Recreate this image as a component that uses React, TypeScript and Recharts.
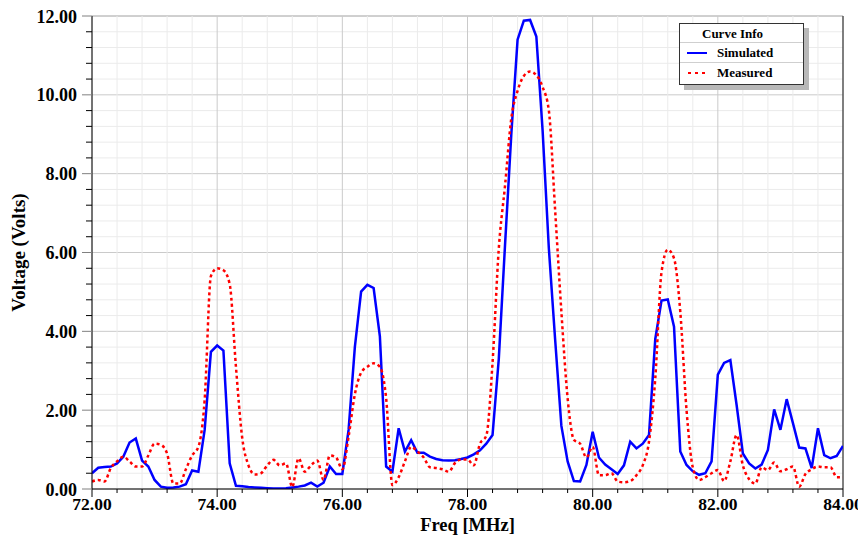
import React from 'react';
import { LineChart, Line, XAxis, YAxis, CartesianGrid, Legend } from 'recharts';

const freqMHz = [
  72.0, 72.1, 72.2, 72.3, 72.4, 72.5, 72.6, 72.7, 72.8, 72.9,
  73.0, 73.1, 73.2, 73.3, 73.4, 73.5, 73.6, 73.7, 73.8, 73.9,
  74.0, 74.1, 74.2, 74.3, 74.4, 74.5, 74.6, 74.7, 74.8, 74.9,
  75.0, 75.1, 75.2, 75.3, 75.4, 75.5, 75.6, 75.7, 75.8, 75.9,
  76.0, 76.1, 76.2, 76.3, 76.4, 76.5, 76.6, 76.7, 76.8, 76.9,
  77.0, 77.1, 77.2, 77.3, 77.4, 77.5, 77.6, 77.7, 77.8, 77.9,
  78.0, 78.1, 78.2, 78.3, 78.4, 78.5, 78.6, 78.7, 78.8, 78.9,
  79.0, 79.1, 79.2, 79.3, 79.4, 79.5, 79.6, 79.7, 79.8, 79.9,
  80.0, 80.1, 80.2, 80.3, 80.4, 80.5, 80.6, 80.7, 80.8, 80.9,
  81.0, 81.1, 81.2, 81.3, 81.4, 81.5, 81.6, 81.7, 81.8, 81.9,
  82.0, 82.1, 82.2, 82.3, 82.4, 82.5, 82.6, 82.7, 82.8, 82.9,
  83.0, 83.1, 83.2, 83.3, 83.4, 83.5, 83.6, 83.7, 83.8, 83.9,
  84.0,
];

const simulatedVolts = [
  0.40, 0.54, 0.56, 0.57, 0.65, 0.82, 1.18, 1.28, 0.72, 0.57,
  0.23, 0.06, 0.03, 0.04, 0.06, 0.12, 0.47, 0.44, 1.50, 3.48,
  3.64, 3.51, 0.65, 0.08, 0.07, 0.05, 0.04, 0.03, 0.02, 0.01,
  0.01, 0.02, 0.04, 0.06, 0.09, 0.16, 0.06, 0.16, 0.57, 0.38,
  0.38, 1.50, 3.60, 5.01, 5.18, 5.10, 3.87, 0.57, 0.44, 1.54,
  0.95, 1.24, 0.92, 0.92, 0.82, 0.76, 0.73, 0.72, 0.73, 0.76,
  0.80, 0.88, 0.98, 1.15, 1.37, 3.30, 6.20, 9.00, 11.40, 11.88,
  11.90, 11.48, 9.10, 6.10, 3.80, 1.60, 0.70, 0.20, 0.19, 0.61,
  1.45, 0.80, 0.62, 0.50, 0.38, 0.60, 1.20, 1.03, 1.15, 1.37,
  3.80, 4.78, 4.81, 4.12, 0.95, 0.61, 0.45, 0.36, 0.40, 0.70,
  2.90, 3.20, 3.27, 2.13, 0.90, 0.65, 0.52, 0.62, 0.99, 2.02,
  1.50, 2.28, 1.67, 1.05, 1.03, 0.53, 1.54, 0.86, 0.78, 0.84,
  1.09,
];

const measuredVolts = [
  0.19, 0.23, 0.19, 0.53, 0.70, 0.82, 0.70, 0.57, 0.57, 0.85,
  1.15, 1.12, 0.90, 0.14, 0.14, 0.50, 0.85, 1.07, 2.26, 5.40,
  5.60, 5.55, 5.20, 3.10, 1.30, 0.60, 0.37, 0.40, 0.60, 0.74,
  0.60, 0.65, 0.05, 0.78, 0.44, 0.60, 0.72, 0.23, 0.85, 0.80,
  0.50, 1.33, 2.40, 2.95, 3.10, 3.19, 3.10, 2.30, 0.10, 0.30,
  0.70, 1.07, 0.95, 0.80, 0.55, 0.53, 0.50, 0.44, 0.66, 0.75,
  0.75, 0.60, 1.15, 1.35, 3.20, 6.10, 7.70, 9.40, 10.10, 10.48,
  10.59, 10.50, 10.20, 9.60, 7.08, 4.50, 2.30, 1.25, 1.15, 0.80,
  1.07, 0.35, 0.35, 0.40, 0.19, 0.17, 0.20, 0.35, 0.60, 1.20,
  2.80, 5.50, 6.07, 5.85, 4.50, 2.00, 0.55, 0.23, 0.30, 0.40,
  0.48, 0.20, 0.70, 1.37, 0.60, 0.25, 0.14, 0.55, 0.48, 0.67,
  0.45, 0.50, 0.57, 0.06, 0.38, 0.50, 0.57, 0.55, 0.55, 0.30,
  0.30,
];

const xTickValues = [
  72, 72.4, 72.8, 73.2, 73.6, 74, 74.4, 74.8, 75.2, 75.6, 76, 76.4, 76.8, 77.2, 77.6,
  78, 78.4, 78.8, 79.2, 79.6, 80, 80.4, 80.8, 81.2, 81.6, 82, 82.4, 82.8, 83.2, 83.6, 84,
];
const yTickValues = [
  0, 0.4, 0.8, 1.2, 1.6, 2, 2.4, 2.8, 3.2, 3.6, 4, 4.4, 4.8, 5.2, 5.6,
  6, 6.4, 6.8, 7.2, 7.6, 8, 8.4, 8.8, 9.2, 9.6, 10, 10.4, 10.8, 11.2, 11.6, 12,
];

const seriesNames = ['Simulated', 'Measured'];
const legendTitle = 'Curve Info';
const xTitle = 'Freq [MHz]';
const yTitle = 'Voltage (Volts)';

const data = freqMHz.map((f, i) => ({ f, sim: simulatedVolts[i], meas: measuredVolts[i] }));

const FONT = '"Liberation Serif", "Times New Roman", serif';
const isMajor = (v: number) => Math.abs(v / 2 - Math.round(v / 2)) < 1e-6;

const XTick = (props: any) => {
  const { x, y, payload } = props;
  const major = isMajor(payload.value);
  return (
    <g>
      <line x1={x} x2={x} y1={y} y2={y + (major ? 8 : 4)} stroke="#000" strokeWidth={1} />
      {major && (
        <text x={x} y={y + 21} textAnchor="middle" fontFamily={FONT} fontWeight="bold" fontSize={17.5} fill="#000">
          {Number(payload.value).toFixed(2)}
        </text>
      )}
    </g>
  );
};

const YTick = (props: any) => {
  const { x, y, payload } = props;
  const major = isMajor(payload.value);
  return (
    <g>
      <line x1={x - (major ? 10 : 6)} x2={x} y1={y} y2={y} stroke={major ? '#808080' : '#000'} strokeWidth={1} />
      {major && (
        <text x={x - 15} y={y + 6.5} textAnchor="end" fontFamily={FONT} fontWeight="bold" fontSize={18} fill="#000">
          {Number(payload.value).toFixed(2)}
        </text>
      )}
    </g>
  );
};

const XTitle = (props: any) => {
  const vb = props.viewBox || { x: 84, y: 481, width: 751, height: 47 };
  return (
    <text x={vb.x + vb.width / 2} y={vb.y + 42} textAnchor="middle" fontFamily={FONT} fontWeight="bold" fontSize={18.5} fill="#000">
      {xTitle}
    </text>
  );
};

const YTitle = (props: any) => {
  const vb = props.viewBox || { x: 0, y: 8, width: 84, height: 473 };
  const cx = 17;
  const cy = vb.y + vb.height / 2;
  return (
    <text x={cx} y={cy} transform={`rotate(-90, ${cx}, ${cy})`} textAnchor="middle" fontFamily={FONT} fontWeight="bold" fontSize={19} fill="#000">
      {yTitle}
    </text>
  );
};

const gridH = (p: any) => {
  const i = p.index;
  const stroke = i === 30 ? '#a0a0a0' : i % 5 === 0 ? '#cacaca' : '#ebebeb';
  return <line key={p.key} x1={p.x1} x2={p.x2} y1={p.y1} y2={p.y2} stroke={stroke} strokeWidth={1} />;
};
const gridV = (p: any) => {
  const i = p.index;
  const stroke = i === 30 ? '#555555' : i % 5 === 0 ? '#cacaca' : '#ebebeb';
  return <line key={p.key} x1={p.x1} x2={p.x2} y1={p.y1} y2={p.y2} stroke={stroke} strokeWidth={i === 30 ? 1.5 : 1} />;
};

const LegendBox = () => (
  <div
    style={{
      width: 125,
      height: 62,
      boxSizing: 'border-box',
      border: '1px solid #333',
      background: '#fff',
      boxShadow: '5px 5px 0 #b8b8b8',
      fontFamily: FONT,
      fontWeight: 'bold',
      fontSize: 13,
      color: '#000',
    }}
  >
    <div style={{ height: 19, lineHeight: '19px', paddingLeft: 22, borderBottom: '1px solid #cfcfcf', boxSizing: 'border-box' }}>
      {legendTitle}
    </div>
    {seriesNames.map((name, i) => (
      <div
        key={name}
        style={{
          height: 20,
          lineHeight: '20px',
          display: 'flex',
          alignItems: 'center',
          borderBottom: i === 0 ? '1px solid #cfcfcf' : 'none',
          boxSizing: 'border-box',
        }}
      >
        <svg width={20} height={4} style={{ marginLeft: 7, marginRight: 10 }}>
          {i === 0 ? (
            <line x1={0} x2={20} y1={2} y2={2} stroke="#0000ff" strokeWidth={2} />
          ) : (
            <line x1={1} x2={20} y1={2} y2={2} stroke="#ff0000" strokeWidth={2} strokeDasharray="3 4" />
          )}
        </svg>
        <span>{name}</span>
      </div>
    ))}
  </div>
);

export default function App() {
  return (
    <div style={{ width: 858, height: 528 }}>
      <LineChart width={858} height={528} data={data} margin={{ top: 8, right: 23, bottom: 0, left: 0 }}>
        <CartesianGrid horizontal={gridH} vertical={gridV} />
        <XAxis
          dataKey="f"
          type="number"
          domain={[72, 84]}
          ticks={xTickValues}
          interval={0}
          height={47}
          tickSize={0}
          tickMargin={0}
          tickLine={false}
          axisLine={{ stroke: '#000', strokeWidth: 1 }}
          tick={<XTick />}
          allowDataOverflow
          label={<XTitle />}
        />
        <YAxis
          type="number"
          domain={[0, 12]}
          ticks={yTickValues}
          interval={0}
          width={84}
          tickSize={0}
          tickMargin={0}
          tickLine={false}
          axisLine={{ stroke: '#000', strokeWidth: 1 }}
          tick={<YTick />}
          allowDataOverflow
          label={<YTitle />}
        />
        <Legend
          layout="horizontal"
          verticalAlign="middle"
          align="center"
          content={() => <LegendBox />}
          wrapperStyle={{ position: 'absolute', left: 671, top: 15, width: 'auto', height: 'auto' }}
        />
        <Line
          dataKey="sim"
          name={seriesNames[0]}
          type="linear"
          stroke="#0000ff"
          strokeWidth={2.5}
          dot={false}
          activeDot={false}
          isAnimationActive={false}
        />
        <Line
          dataKey="meas"
          name={seriesNames[1]}
          type="monotone"
          stroke="#ff0000"
          strokeWidth={2.5}
          strokeDasharray="3 3"
          dot={false}
          activeDot={false}
          isAnimationActive={false}
        />
      </LineChart>
    </div>
  );
}
